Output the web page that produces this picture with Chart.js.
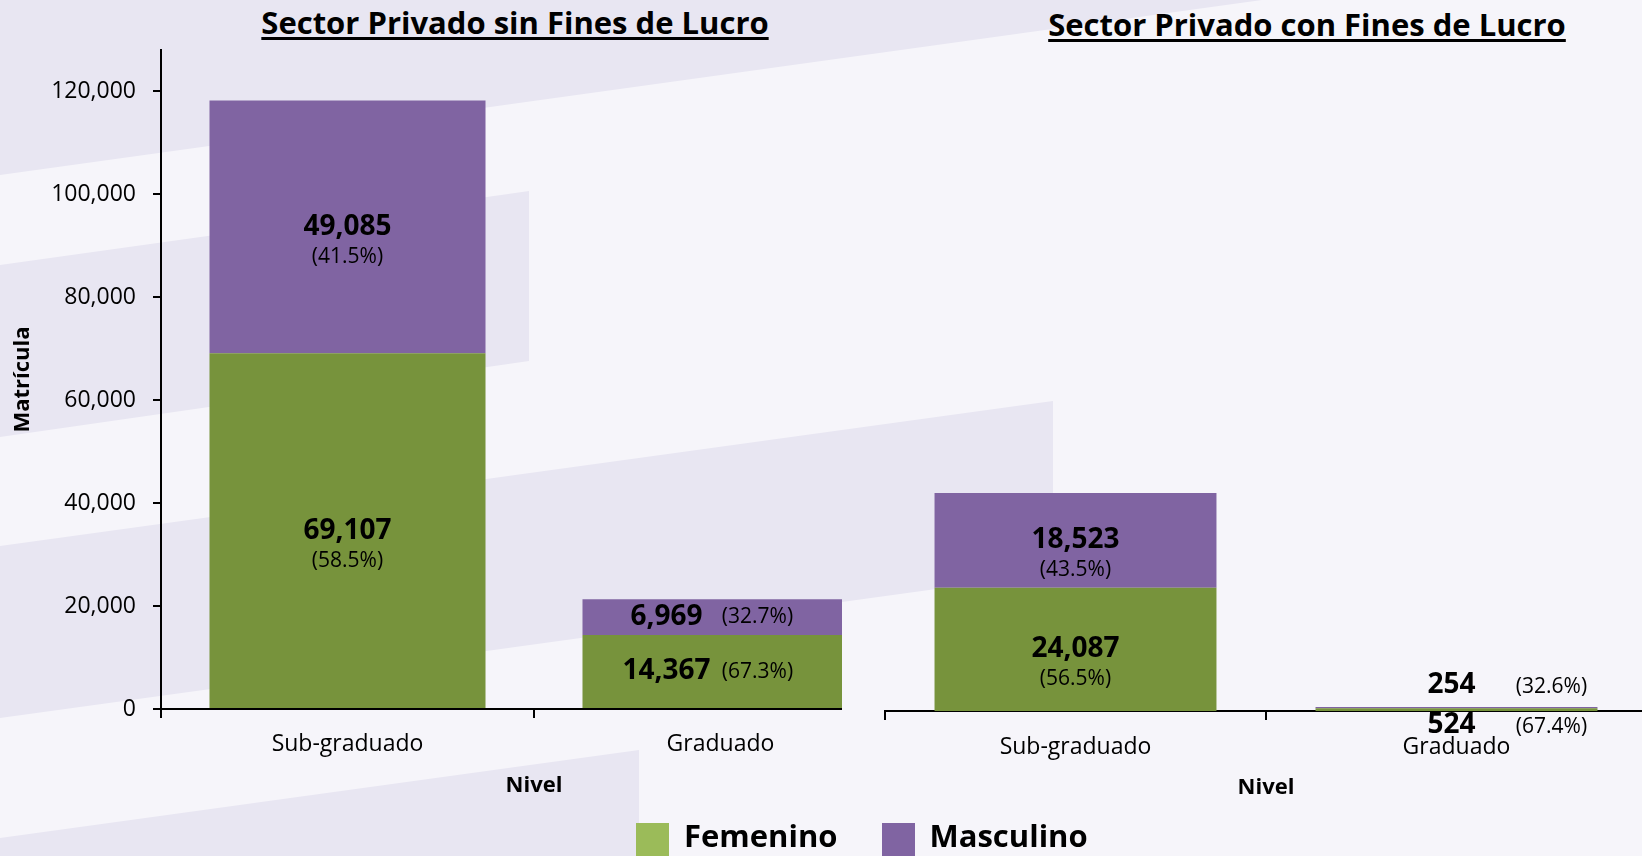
<!DOCTYPE html>
<html lang="es">
<head>
<meta charset="utf-8">
<title>Matrícula por nivel y sexo - Sector Privado</title>
<script src="https://cdn.jsdelivr.net/npm/chart.js@4.4.1/dist/chart.umd.min.js"></script>
<style>
    html, body { margin: 0; padding: 0; }
    body {
        width: 1642px; height: 856px; overflow: hidden; position: relative;
        background: #F6F5FA; font-family: 'Open Sans', sans-serif; color: #000;
    }
    .band { position: absolute; left: 0; top: 0; width: 1642px; height: 856px; background: #E8E6F2; }
    .band-a { clip-path: polygon(0 0, 1262px 0, 0 175px); }
    .band-b { clip-path: polygon(0 265px, 529px 191px, 529px 361px, 0 437px); }
    .band-c { clip-path: polygon(0 546px, 1053px 401px, 1053px 573px, 0 718px); }
    .band-d { clip-path: polygon(0 838px, 639px 750px, 639px 856px, 0 856px); }

    .chartTitle {
        position: absolute; font-size: 31px; font-weight: 700; line-height: 32px;
        white-space: nowrap; transform: translateX(-50%);
        text-decoration: underline; text-decoration-thickness: 3px; text-underline-offset: 3px;
    }
    #titleSin { left: 515px; top: 6px; }
    #titleCon { left: 1307px; top: 8px; }

    #wrapSin { position: absolute; left: 0; top: 0; width: 842px; height: 856px; overflow: hidden; }
    #wrapCon { position: absolute; left: 842px; top: 0; width: 800px; height: 856px; overflow: hidden; }

    #legend { position: absolute; left: 636px; top: 819px; display: flex; gap: 44px; }
    .legendItem { display: flex; align-items: flex-start; font-size: 31px; font-weight: 700; line-height: 32px; }
    .legendBox { width: 33px; height: 40px; margin-top: 4px; margin-right: 15px; }
</style>
</head>
<body>
<div class="band band-a"></div>
<div class="band band-b"></div>
<div class="band band-c"></div>
<div class="band band-d"></div>

<div class="chartTitle" id="titleSin">Sector Privado sin Fines de Lucro</div>
<div class="chartTitle" id="titleCon">Sector Privado con Fines de Lucro</div>

<div id="wrapSin"><canvas id="chartSin" width="960" height="856"></canvas></div>
<div id="wrapCon"><canvas id="chartCon" width="820" height="856"></canvas></div>

<div id="legend"></div>

<script>
// datos
const niveles = ['Sub-graduado', 'Graduado'];
const series = ['Femenino', 'Masculino'];

const sinFinesFemenino = [69107, 14367];
const sinFinesMasculino = [49085, 6969];
const sinFinesPctFemenino = [58.5, 67.3];
const sinFinesPctMasculino = [41.5, 32.7];

const conFinesFemenino = [24087, 524];
const conFinesMasculino = [18523, 254];
const conFinesPctFemenino = [56.5, 67.4];
const conFinesPctMasculino = [43.5, 32.6];

const yTicks = [0, 20000, 40000, 60000, 80000, 100000, 120000];
const yMax = 128000;

const barColors = ['#77933C', '#8064A2'];
const legendColors = ['#9BBB59', '#8064A2'];

Chart.defaults.font.family = "'Open Sans', sans-serif";
Chart.defaults.color = '#000';

function fmt(n) {
    return n.toLocaleString('en-US');
}

// etiquetas de valor y porcentaje sobre cada segmento
const barLabels = {
    id: 'barLabels',
    afterDatasetsDraw(chart, args, opts) {
        const ctx = chart.ctx;
        ctx.save();
        ctx.fillStyle = '#000';
        ctx.textBaseline = 'middle';
        ctx.textAlign = 'center';
        chart.data.datasets.forEach((ds, di) => {
            let meta = chart.getDatasetMeta(di);
            meta.data.forEach((bar, i) => {
                let top = Math.min(bar.y, bar.base);
                let bottom = Math.max(bar.y, bar.base);
                let cy = (top + bottom) / 2;
                let value = fmt(ds.data[i]);
                let pct = '(' + opts.percents[di][i].toFixed(1) + '%)';
                let mode = opts.modes[i];
                let vx = bar.x, vy = cy, px = bar.x, py = cy;

                if (mode == 'stack') {
                    py = cy + 30;
                } else if (mode == 'inline') {
                    vx = bar.x - 54;
                    px = bar.x + 37;
                } else if (mode == 'outside') {
                    vx = bar.x - 5;
                    px = bar.x + 95;
                    vy = (di == 1) ? top - 22 : bottom + 14;
                    py = vy + 2;
                }

                ctx.font = "bold 28px 'Open Sans'";
                ctx.fillText(value, vx, vy);
                ctx.font = "21px 'Open Sans'";
                ctx.fillText(pct, px, py);
            });
        });
        ctx.restore();
    }
};

function buildChart(canvasId, femenino, masculino, pctFem, pctMasc, modes, padding, tickPad, showY) {
    let ctx = document.getElementById(canvasId);

    return new Chart(ctx, {
        type: 'bar',
        data: {
            labels: niveles,
            datasets: [
                { label: series[0], data: femenino, backgroundColor: barColors[0], borderWidth: 0 },
                { label: series[1], data: masculino, backgroundColor: barColors[1], borderWidth: 0 },
            ],
        },
        options: {
            responsive: false,
            animation: false,
            layout: { padding: padding },
            categoryPercentage: 1,
            barPercentage: 0.74,
            plugins: {
                legend: { display: false },
                tooltip: { enabled: false },
                barLabels: { percents: [pctFem, pctMasc], modes: modes },
            },
            scales: {
                x: {
                    stacked: true,
                    ticks: { color: '#000', font: { size: 23 }, padding: tickPad },
                    grid: { offset: true, drawOnChartArea: false, drawTicks: true, tickLength: 9, color: '#000', lineWidth: 2 },
                    border: { display: true, color: '#000', width: 2 },
                    title: { display: true, text: 'Nivel', color: '#000', font: { size: 22, weight: 'bold' }, padding: { top: 0, bottom: 0 } },
                    afterFit: (scale) => { scale.height = 90; },
                },
                y: {
                    display: showY,
                    stacked: true,
                    min: 0,
                    max: yMax,
                    afterBuildTicks: (scale) => { scale.ticks = yTicks.map(v => ({ value: v })); },
                    ticks: { color: '#000', font: { size: 23 }, padding: 17, callback: (v) => fmt(v) },
                    grid: { drawOnChartArea: false, drawTicks: true, tickLength: 8, color: '#000', lineWidth: 2 },
                    border: { display: true, color: '#000', width: 2 },
                    title: { display: true, text: 'Matrícula', color: '#000', font: { size: 22, weight: 'bold' }, padding: { top: 10, bottom: 0 } },
                    afterFit: (scale) => { scale.width = showY ? 161 : 0; },
                },
            },
        },
        plugins: [barLabels],
    });
}

buildChart('chartSin', sinFinesFemenino, sinFinesMasculino, sinFinesPctFemenino, sinFinesPctMasculino,
    ['stack', 'inline'], { left: 0, top: 50, right: 53, bottom: 57 }, 13, true);

buildChart('chartCon', conFinesFemenino, conFinesMasculino, conFinesPctFemenino, conFinesPctMasculino,
    ['stack', 'outside'], { left: 43, top: 56, right: 15, bottom: 55 }, 14, false);

// leyenda compartida
let legend = document.getElementById('legend');
series.forEach((name, i) => {
    let item = document.createElement('div');
    item.className = 'legendItem';
    let box = document.createElement('span');
    box.className = 'legendBox';
    box.style.background = legendColors[i];
    let text = document.createElement('span');
    text.textContent = name;
    item.appendChild(box);
    item.appendChild(text);
    legend.appendChild(item);
});
</script>
</body>
</html>
